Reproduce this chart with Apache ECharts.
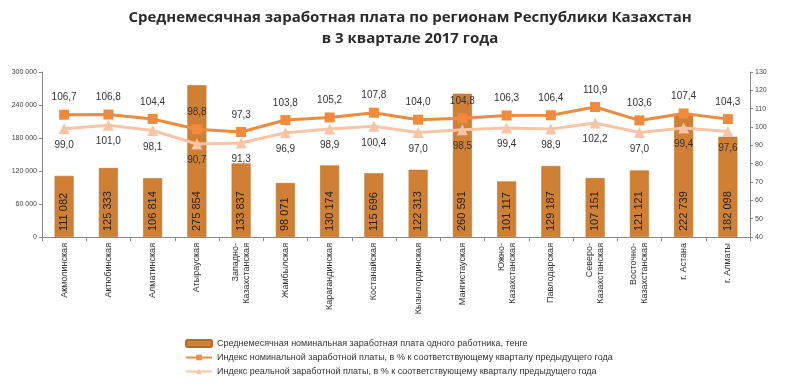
<!DOCTYPE html>
<html><head><meta charset="utf-8">
<script src="https://cdn.jsdelivr.net/npm/echarts@6/dist/echarts.min.js"></script>
<style>html,body{margin:0;padding:0;background:#fff}#c{width:800px;height:385px}</style>
</head><body><div id="c"></div>
<script>
const categories = ['Акмолинская','Актюбинская','Алматинская','Атырауская','Западно-\nКазахстанская','Жамбылская','Карагандинская','Костанайская','Кызылординская','Мангистауская','Южно-\nКазахстанская','Павлодарская','Северо-\nКазахстанская','Восточно-\nКазахстанская','г. Астана','г. Алматы'];
const wages = [111082,125333,106814,275854,133837,98071,130174,115696,122313,260591,101117,129187,107151,121121,222739,182098];
const nominalIdx = [106.7,106.8,104.4,98.8,97.3,103.8,105.2,107.8,104.0,104.8,106.3,106.4,110.9,103.6,107.4,104.3];
const realIdx = [99.0,101.0,98.1,90.7,91.3,96.9,98.9,100.4,97.0,98.5,99.4,98.9,102.2,97.0,99.4,97.6];
const leftTicks = {min:0,max:300000,interval:60000};
const rightTicks = {min:40,max:130,interval:10};
const names = ['Среднемесячная номинальная заработная плата одного работника, тенге','Индекс номинальной заработной платы, в % к соответствующему кварталу предыдущего года','Индекс реальной заработной платы, в % к соответствующему кварталу предыдущего года'];

const fmtThousands = v => String(v).replace(/\B(?=(\d{3})+(?!\d))/g,' ');
const fmtDec = v => v.toFixed(1).replace('.',',');

const chart = echarts.init(document.getElementById('c'));
chart.setOption({
  animation:false,
  backgroundColor:'#fff',
  textStyle:{fontFamily:'Liberation Sans, Arial, sans-serif'},
  title:{text:'Среднемесячная заработная плата по регионам Республики Казахстан\nв 3 квартале 2017 года',left:405,textAlign:'center',top:2,
    textStyle:{fontSize:15,fontWeight:'bold',color:'#2b2b2b',lineHeight:21,fontFamily:'Open Sans, sans-serif'}},
  grid:{left:42,right:50,top:72,bottom:148},
  legend:{orient:'vertical',left:180,top:334,itemGap:5,itemWidth:26,itemHeight:7,
    textStyle:{fontSize:9,color:'#333'},data:names},
  xAxis:{type:'category',data:categories,
    axisLine:{lineStyle:{color:'#888'}},axisTick:{show:true,length:4,lineStyle:{color:'#888'}},
    axisLabel:{rotate:90,fontSize:9,color:'#333',margin:6,lineHeight:11,interval:0}},
  yAxis:[
    {type:'value',min:leftTicks.min,max:leftTicks.max,interval:leftTicks.interval,splitLine:{show:false},
     axisLine:{show:true,lineStyle:{color:'#888'}},axisTick:{show:true,length:3,lineStyle:{color:'#888'}},
     axisLabel:{fontSize:7,color:'#444',formatter:v=>fmtThousands(v),margin:5}},
    {type:'value',min:rightTicks.min,max:rightTicks.max,interval:rightTicks.interval,splitLine:{show:false},position:'right',
     axisLine:{show:true,lineStyle:{color:'#888'}},axisTick:{show:true,length:3,lineStyle:{color:'#888'}},
     axisLabel:{fontSize:7,color:'#444',margin:5}}
  ],
  series:[
    {name:names[0],type:'bar',data:wages,yAxisIndex:0,barWidth:19,
     itemStyle:{color:'#D08034',borderColor:'#B86A22',borderWidth:0.5},
     label:{show:true,position:'insideBottom',rotate:90,align:'left',verticalAlign:'middle',distance:6,
       fontSize:11,color:'#222',formatter:p=>fmtThousands(p.value)}},
    {name:names[1],type:'line',data:nominalIdx,yAxisIndex:1,symbol:'rect',symbolSize:10,
     lineStyle:{color:'#F08A3C',width:3},itemStyle:{color:'#F08A3C'},z:3,
     label:{show:true,position:'top',distance:7,fontSize:10,color:'#333',formatter:p=>fmtDec(p.value)}},
    {name:names[2],type:'line',data:realIdx,yAxisIndex:1,symbol:'triangle',symbolSize:11,
     lineStyle:{color:'#F7C4A6',width:3},itemStyle:{color:'#F7C4A6'},z:2,
     label:{show:true,position:'bottom',distance:6,fontSize:10,color:'#333',formatter:p=>fmtDec(p.value)}}
  ]
});
</script></body></html>
